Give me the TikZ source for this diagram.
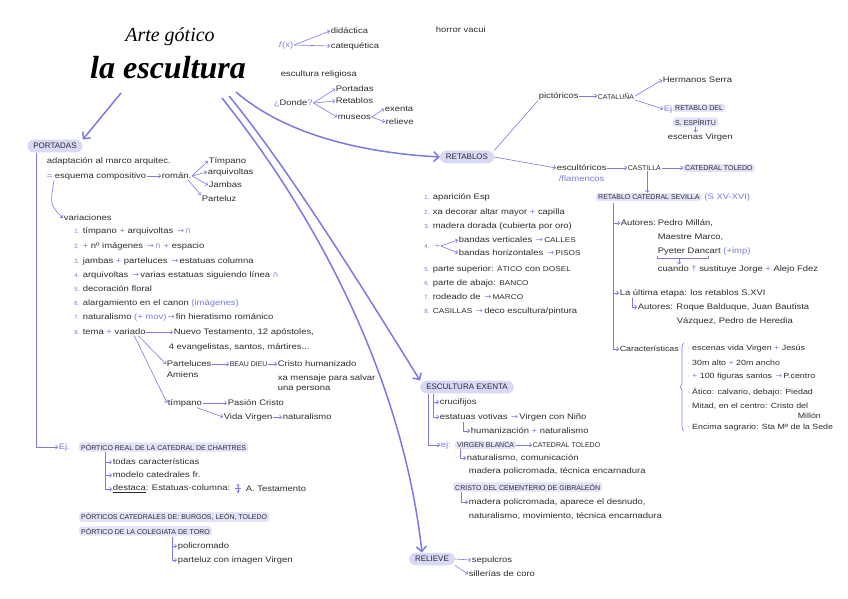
\documentclass[tikz,border=0pt]{standalone}
\usepackage{fontspec}
\setmainfont{Liberation Sans}
\newfontfamily\hw{Liberation Sans}[FakeStretch=1.18]
\newfontfamily\symf{DejaVu Sans}
\newfontfamily\titlef{Liberation Serif}
\usetikzlibrary{arrows.meta,decorations.pathreplacing,calc}
\definecolor{lc}{RGB}{122,122,226}
\definecolor{hl}{RGB}{226,226,250}
\definecolor{pillc}{RGB}{216,216,247}
\definecolor{ink}{RGB}{45,45,45}
\newcommand{\myA}{{\symf\color{lc}\,→\,}}
\newcommand{\pl}{{\color{lc}+}}
\newcommand{\smc}[1]{{\fontsize{7}{8}\selectfont #1}}
\newcommand{\archs}{{\symf\color{lc}∩}}
\tikzset{
 txt/.style={anchor=west, inner sep=0.6pt, font=\hw\fontsize{8}{9}\selectfont, text=ink},
 stxt/.style={txt, font=\hw\fontsize{7.5}{8.5}\selectfont},
 captxt/.style={txt, font=\fontsize{7}{8}\selectfont},
 hlt/.style={captxt, fill=hl, rounded corners=2.5pt, inner xsep=2pt, inner ysep=1.5pt},
 pill/.style={fill=pillc, rounded corners=6.5pt, inner xsep=6pt, inner ysep=3.5pt, font=\fontsize{8}{9}\selectfont, text=ink},
 num/.style={anchor=east, inner sep=0.5pt, font=\fontsize{6}{7}\selectfont, text=lc},
 con/.style={draw=lc, line width=0.6pt, -{Straight Barb[length=2pt,width=4pt]}},
 ln/.style={draw=lc, line width=0.6pt},
 main/.style={draw=lc, line width=1.5pt, -{Straight Barb[length=5pt,width=10pt]}},
}
\begin{document}
\begin{tikzpicture}[x=1pt,y=-1pt]
\fill[white] (0,0) rectangle (848,599);
\useasboundingbox (0,0) rectangle (848,599);

% ---------- title ----------
\node[font=\titlef\itshape\fontsize{20}{20}\selectfont, text=black] (t1) at (170,37) {Arte gótico};
\node[font=\titlef\itshape\bfseries\fontsize{32}{32}\selectfont, text=black] (t2) at (168,68) {la escultura};
\coordinate (tP) at (121,93);
\coordinate (tR) at (236,92);
\coordinate (tE) at (229,96);
\coordinate (tL) at (222,98);

% ---------- top notes ----------
\node[txt, text=lc] (fx) at (278,45) {\textit{f}(x)};
\node[txt] (did) at (330,31) {didáctica};
\node[txt] (cat) at (330,46) {catequética};
\draw[con] (fx.east) -- (did.west);
\draw[con] (fx.east) -- (cat.west);
\node[txt] (hv) at (435,30) {horror vacui};
\node[txt] (er) at (280,74) {escultura religiosa};
\node[txt] (don) at (273,103) {{\color{lc}¿}Donde{\color{lc}?}};
\node[txt] (por0) at (335,89) {Portadas};
\node[txt] (ret0) at (335,101) {Retablos};
\node[txt] (mus) at (337,117) {museos};
\node[txt] (exe0) at (384,109) {exenta};
\node[txt] (rel0) at (385,122) {relieve};
\draw[con] (don.east) -- (por0.west);
\draw[con] (don.east) -- (ret0.west);
\draw[con] (don.east) -- (mus.west);
\draw[con] (mus.east) -- (exe0.west);
\draw[con] (mus.east) -- (rel0.west);

% ---------- PORTADAS ----------
\node[pill] (portadas) at (55,146) {PORTADAS};
\draw[main] (tP) -- (portadas.north east);
\node[txt] (adap) at (46,161) {adaptación al marco arquitec.};
\node[txt] (esq) at (46,176) {{\color{lc}=} esquema compositivo};
\node[txt] (rom) at (161,176) {román.};
\draw[con] (esq) -- (rom);
\node[txt] (tim) at (208,161) {Tímpano};
\node[txt] (arq) at (207,172) {arquivoltas};
\node[txt] (jam) at (208,185) {Jambas};
\node[txt] (pz) at (201,199) {Parteluz};
\draw[con] (rom.east) -- (tim.west);
\draw[con] (rom.east) -- (arq.west);
\draw[con] (rom.east) -- (jam.west);
\draw[con] ([xshift=-4pt]rom.south east) -- (pz.north west);
\node[txt] (var) at (63,218) {variaciones};
\draw[con] ([xshift=8pt]esq.south west) .. controls (50,205) .. (var.west);

\node[num] (n1) at (80,231) {1.}; \node[txt] (v1) at (82,231) {tímpano \pl\ arquivoltas \myA\archs};
\node[num] (n2) at (80,246) {2.}; \node[txt] (v2) at (82,246) {\pl\ nº imágenes \myA\archs\ \pl\ espacio};
\node[num] (n3) at (80,261) {3.}; \node[txt] (v3) at (82,261) {jambas \pl\ parteluces \myA estatuas columna};
\node[num] (n4) at (80,275) {4.}; \node[txt] (v4) at (82,275) {arquivoltas \myA varias estatuas siguiendo línea \archs};
\node[num] (n5) at (80,289) {5.}; \node[txt] (v5) at (82,289) {decoración floral};
\node[num] (n6) at (80,303) {6.}; \node[txt] (v6) at (82,303) {alargamiento en el canon {\color{lc}(imágenes)}};
\node[num] (n7) at (80,317) {7.}; \node[txt] (v7) at (82,317) {naturalismo {\color{lc}(+ mov)}\myA fin hieratismo románico};
\node[num] (n8) at (80,332) {8.}; \node[txt] (v8) at (82,332) {tema \pl\ variado};
\node[txt] (nt) at (173,332) {Nuevo Testamento, 12 apóstoles,};
\draw[con] (v8) -- (nt);
\node[txt] (evg) at (168,347) {4 evangelistas, santos, mártires...};
\node[txt] (part) at (166,364) {Parteluces};
\node[txt] (ami) at (166,375) {Amiens};
\node[captxt] (beau) at (229,364) {BEAU DIEU};
\node[txt] (crh) at (277,364) {Cristo humanizado};
\node[txt] (xam) at (277,378) {xa mensaje para salvar};
\node[txt] (una) at (277,389) {una persona};
\draw[con] (part) -- (beau);
\draw[con] (beau) -- (crh);
\node[txt] (timp) at (167,403) {tímpano};
\node[txt] (pas) at (227,403) {Pasión Cristo};
\node[txt] (vv) at (223,417) {Vida Virgen};
\node[txt] (nat2) at (282,417) {naturalismo};
\draw[con] (timp) -- (pas);
\draw[con] ([xshift=-6pt]timp.south east) -- (vv.west);
\draw[con] (vv) -- (nat2);
\draw[con] ([xshift=-8pt]v8.south east) -- (part.west);
\draw[con] ([xshift=-12pt]v8.south east) -- (timp.west);

\node[txt] (ej) at (58,447) {\color{lc}Ej.};
\draw[con] ([xshift=9pt]portadas.south west) |- (ej.west);
\node[hlt] (prc) at (79,447) {PÓRTICO REAL DE LA CATEDRAL DE CHARTRES};
\coordinate (sc) at (105,452);
\node[txt] (tc) at (112,462) {todas características};
\node[txt] (mc) at (112,475) {modelo catedrales fr.};
\node[txt] (dst) at (112,489) {\underline{destaca}: Estatuas-columna:};
\node[txt] (atest) at ([xshift=14pt]dst.east) {A. Testamento};
\draw[con] (sc) |- (tc.west);
\draw[con] (sc) |- (mc.west);
\draw[con] (sc) |- (dst.west);
\begin{scope}[shift={([xshift=7pt]dst.east)}, lc, line width=0.5pt]
 \draw (0,-3.5) circle (1.3);
 \draw (-3,-1.2) -- (3,-1.2);
 \draw (0,-2.2) -- (0,3.5);
 \draw (-1.5,1) -- (0,3.5) -- (1.5,1);
\end{scope}

\node[hlt] (pcat) at (79,517) {PÓRTICOS CATEDRALES DE: BURGOS, LEÓN, TOLEDO};
\node[hlt] (pcol) at (79,531) {PÓRTICO DE LA COLEGIATA DE TORO};
\coordinate (sc2) at (172,537);
\node[txt] (pol) at (177,546) {policromado};
\node[txt] (ptv) at (177,560) {parteluz con imagen Virgen};
\draw[con] (sc2) |- (pol.west);
\draw[con] (sc2) |- (ptv.west);

% ---------- RETABLOS ----------
\node[pill] (retablos) at (467,157) {RETABLOS};
\draw[main] (tR) .. controls (280,130) and (350,152) .. (retablos.west);
\node[txt] (pic) at (538,96) {pictóricos};
\draw[ln] (retablos.north east) -- (pic.south west);
\node[captxt] (catal) at (597,96) {CATALUÑA};
\draw[con] (pic) -- (catal);
\node[txt] (hs) at (662,80) {Hermanos Serra};
\draw[con] (catal.east) -- (hs.west);
\node[txt] (ej2) at (663,109) {\color{lc}Ej.};
\draw[con] (catal.south east) -- (ej2.west);
\node[hlt] (rdl) at (673,108) {RETABLO DEL};
\node[hlt] (sesp) at (673,122) {S. ESPÍRITU};
\node[txt] (evi) at (667,137) {escenas Virgen};
\draw[con] (sesp.south) -- (evi.north -| sesp.south);

\node[txt] (esc) at (556,168) {escultóricos};
\node[txt, text=lc] (fl) at (558,179) {/flamencos};
\draw[con] (retablos.east) -- (esc.west);
\node[captxt] (cast) at (627,168) {CASTILLA};
\draw[con] (esc) -- (cast);
\node[hlt] (ctol) at (683,168) {CATEDRAL TOLEDO};
\draw[con] (cast) -- (ctol);
\node[hlt] (rcs) at (596,197) {RETABLO CATEDRAL SEVILLA};
\node[txt, text=lc] (sxv) at ([xshift=2pt]rcs.east) {(S XV-XVI)};
\draw[con] ([xshift=3pt]cast.south) -- ([xshift=3pt]cast.south |- rcs.north);

\node[num] (m1) at (430,197) {1.}; \node[txt] (r1) at (432,197) {aparición Esp};
\node[num] (m2) at (430,212) {2.}; \node[txt] (r2) at (432,212) {xa decorar altar mayor \pl\ capilla};
\node[num] (m3) at (430,226) {3.}; \node[txt] (r3) at (432,226) {madera dorada (cubierta por oro)};
\node[num] (m4) at (430,246) {4.}; \node[txt] (dv) at (434,246) {\color{lc}÷};
\node[txt] (bv) at (458,240) {bandas verticales \myA \smc{CALLES}};
\node[txt] (bh) at (458,253) {bandas horizontales \myA \smc{PISOS}};
\draw[con] (dv.east) -- (bv.west);
\draw[con] (dv.east) -- (bh.west);
\node[num] (m5) at (430,269) {5.}; \node[txt] (r5) at (432,269) {parte superior: \smc{ÁTICO} con \smc{DOSEL}};
\node[num] (m6) at (430,283) {6.}; \node[txt] (r6) at (432,283) {parte de abajo: \smc{BANCO}};
\node[num] (m7) at (430,297) {7.}; \node[txt] (r7) at (432,297) {rodeado de \myA \smc{MARCO}};
\node[num] (m8) at (430,311) {8.}; \node[txt] (r8) at (432,311) {\smc{CASILLAS} \myA deco escultura/pintura};

% Sevilla tree
\coordinate (sv) at (613,203);
\node[txt] (aut) at (620,223) {Autores:};
\node[txt] (pm) at (657,223) {Pedro Millán,};
\node[txt] (mm) at (657,237) {Maestre Marco,};
\node[txt] (pd) at (657,251) {Pyeter Dancart {\color{lc}(+imp)}};
\draw[ln] (657,256) -- (657,258.5) -- (708,258.5) -- (708,256);
\coordinate (pdb) at (679,258.5);
\node[txt] (cu) at (657,269) {cuando {\color{lc}†} sustituye Jorge \pl\ Alejo Fdez};
\draw[con] (pdb) -- (cu.north -| pdb);
\node[txt] (ult) at (619,293) {La última etapa: los retablos S.XVI};
\node[txt] (au2) at (637,307) {Autores: Roque Balduque, Juan Bautista};
\node[txt] (vaz) at (676,321) {Vázquez, Pedro de Heredia};
\draw[con] ([xshift=13pt]ult.south west) |- (au2.west);
\node[stxt] (car) at (619,349) {Características};
\draw[con] (sv) |- (aut.west);
\draw[con] (sv) |- (ult.west);
\draw[con] (sv) |- (car.west);
\draw[lc, line width=0.6pt, decorate, decoration={brace, amplitude=4pt}] (684,431) -- (684,343);
\node[stxt] (c1) at (686,349) {{\color{lc}·} escenas vida Virgen \pl\ Jesús};
\node[stxt] (c2) at (686,363) {{\color{lc}·} 30m alto \pl\ 20m ancho};
\node[stxt] (c3) at (686,377) {{\color{lc}·} \pl\ 100 figuras santos \myA P.centro};
\node[stxt] (c4) at (686,392) {{\color{lc}·} Ático: calvario, debajo: Piedad};
\node[stxt] (c5) at (686,406) {{\color{lc}·} Mitad, en el centro: Cristo del};
\node[stxt] (c5b) at (797,416) {Millón};
\node[stxt] (c6) at (686,428) {{\color{lc}·} Encima sagrario: Sta Mª de la Sede};

% ---------- ESCULTURA EXENTA ----------
\node[pill] (exenta) at (467,387) {ESCULTURA EXENTA};
\draw[main] (tE) .. controls (290,170) and (370,300) .. (exenta.north west);
\node[txt] (cru) at (439,402) {crucifijos};
\node[txt] (est) at (439,417) {estatuas votivas \myA Virgen con Niño};
\node[txt] (hum) at (470,431) {humanización \pl\ naturalismo};
\node[txt] (ejx) at (440,445) {\color{lc}ej:};
\node[hlt] (vb) at (455,445) {VIRGEN BLANCA};
\node[captxt] (ct) at (532,445) {CATEDRAL TOLEDO};
\draw[con] (vb) -- (ct);
\draw[con] ([xshift=8pt]exenta.south west) |- (ejx.west);
\draw[con] ([xshift=13pt]exenta.south west) |- (cru.west);
\draw[con] ([xshift=13pt]exenta.south west) |- (est.west);
\draw[con] ([xshift=24pt]est.south west) |- (hum.west);
\node[txt] (nc) at (466,458) {naturalismo, comunicación};
\node[txt] (mp) at (468,471) {madera policromada, técnica encarnadura};
\draw[con] ([xshift=5pt]vb.south west) |- (nc.west);
\node[hlt] (cg) at (453,487) {CRISTO DEL CEMENTERIO DE GIBRALEÓN};
\node[txt] (mp2) at (468,502) {madera policromada, aparece el desnudo,};
\node[txt] (nm2) at (468,516) {naturalismo, movimiento, técnica encarnadura};
\draw[con] ([xshift=8pt]cg.south west) |- (mp2.west);

% ---------- RELIEVE ----------
\node[pill] (relieve) at (432,559) {RELIEVE};
\draw[main] (tL) .. controls (335,240) and (405,400) .. ([xshift=-10pt]relieve.north);
\node[txt] (sep) at (471,560) {sepulcros};
\node[txt] (sil) at (468,574) {sillerías de coro};
\draw[con] (relieve.east) -- (sep.west);
\draw[con] (relieve.south east) -- (sil.west);
\end{tikzpicture}
\end{document}
